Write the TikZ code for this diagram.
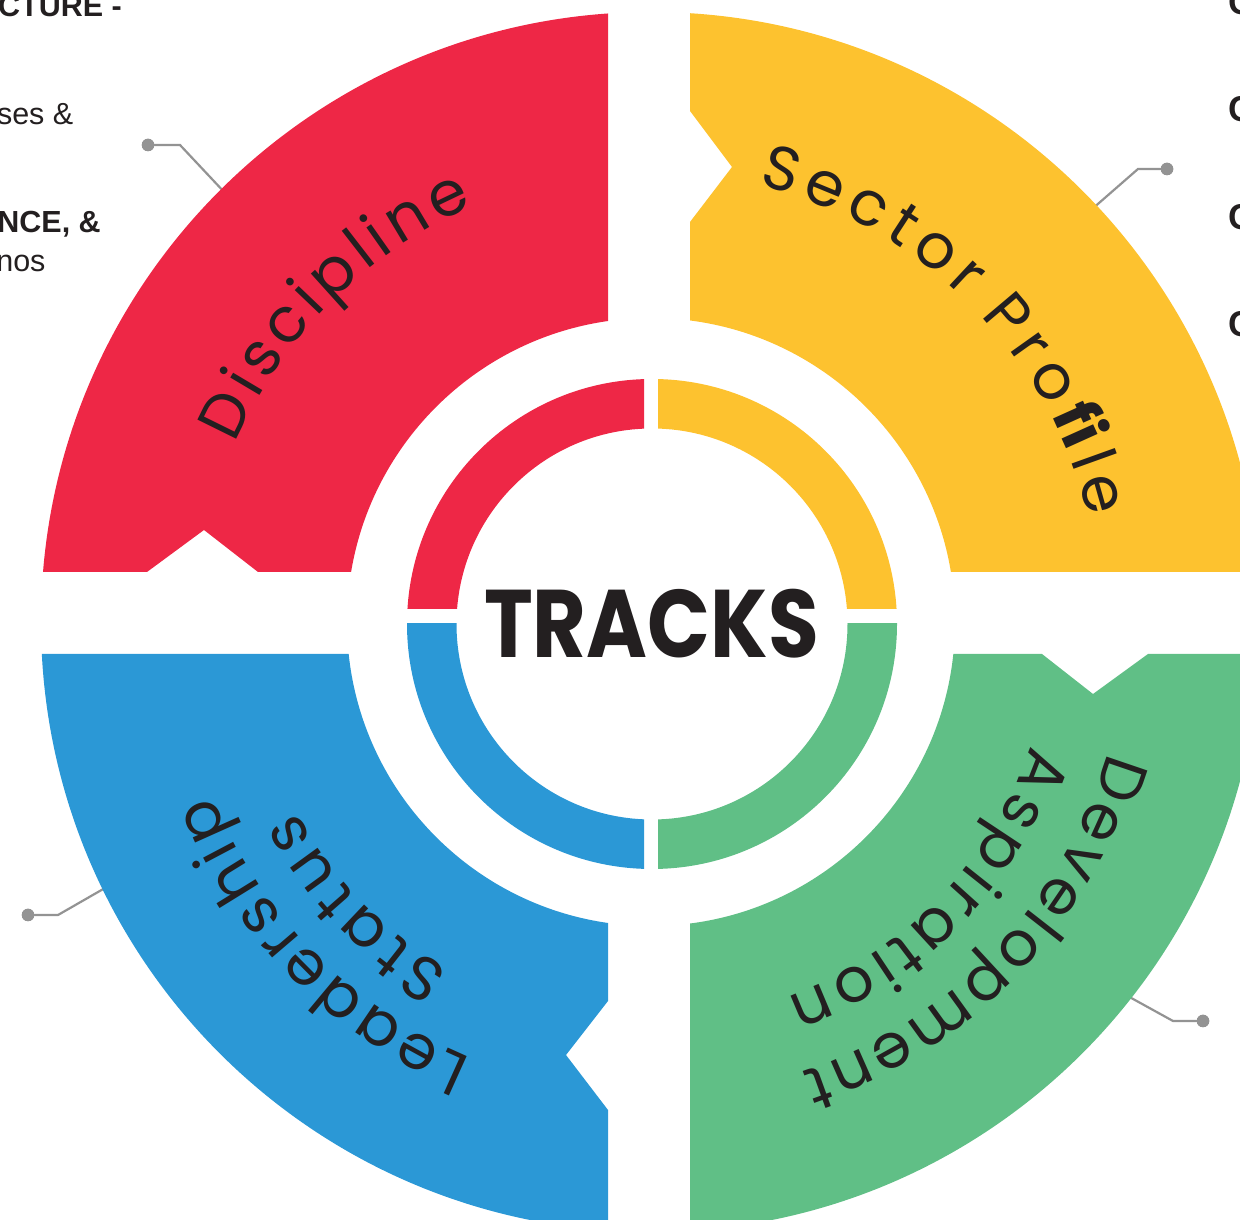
\documentclass[tikz,border=0pt]{standalone}
\usepackage{fontspec}
\setmainfont{Liberation Sans}
\newfontfamily\arcfont{Poppins}
\newfontfamily\trackfont{Poppins}
\usetikzlibrary{decorations.text,calc}
\definecolor{cred}{HTML}{EE2746}
\definecolor{cyel}{HTML}{FDC22F}
\definecolor{cblu}{HTML}{2B98D6}
\definecolor{cgrn}{HTML}{60BF86}
\definecolor{ink}{HTML}{231F20}
\definecolor{leadgray}{HTML}{939393}
\newcommand\lsp{\kern5.5pt}
\newcommand\lspw{\kern7.8pt}
\newcommand\lspn{\kern4.4pt}
\newcommand\arcsize{\arcfont\fontsize{62}{70}\selectfont}
\begin{document}
\begin{tikzpicture}[x=1pt,y=1pt,
  leaddot/.style={circle, fill=leadgray, inner sep=0pt, minimum size=12.5pt},
  leadline/.style={draw=leadgray, line width=2.2pt},
  arctext/.style={decorate, decoration={text along path, text align=center, text color=ink}},
  side/.style={anchor=base east, inner sep=0pt, text=ink, font=\fontsize{30.5}{36}\selectfont},
  sidebold/.style={anchor=base east, inner sep=0pt, text=ink, font=\bfseries\fontsize{30.5}{36}\selectfont},
  sideright/.style={anchor=base west, inner sep=0pt, text=ink, font=\bfseries\fontsize{36}{40}\selectfont},
  ringpart/.style={even odd rule}
]
\useasboundingbox (0,0) rectangle (1240,1220);
\coordinate (C) at (651,598);
\coordinate (R) at (652,596);

% leader lines (drawn under the quadrants)
\node[leaddot] (d1) at (148,1075) {};
\coordinate (k1) at (180,1075);
\coordinate (e1) at (226,1026);
\node[leaddot] (d2) at (1167,1051) {};
\coordinate (k2) at (1138,1051);
\coordinate (e2) at (1091,1010);
\node[leaddot] (d3) at (1203,199) {};
\coordinate (k3) at (1173,199);
\coordinate (e3) at (1124,226);
\node[leaddot] (d4) at (28,305) {};
\coordinate (k4) at (58,305);
\coordinate (e4) at (112,336);
\draw[leadline] (d1.center) -- (k1) -- (e1);
\draw[leadline] (d2.center) -- (k2) -- (e2);
\draw[leadline] (d3.center) -- (k3) -- (e3);
\draw[leadline] (d4.center) -- (k4) -- (e4);
\node[leaddot] at (d1) {};
\node[leaddot] at (d2) {};
\node[leaddot] at (d3) {};
\node[leaddot] at (d4) {};

% outer quadrants
\begin{scope}
\clip (0,648) -- (147,648) -- (204,690) -- (258,648) -- (608,648) -- (608,1220) -- (0,1220) -- cycle;
\fill[cred, ringpart] (C) circle[radius=610] (C) circle[radius=304];
\end{scope}
\begin{scope}
\clip (690,648) -- (690,998) -- (732,1053) -- (690,1109) -- (690,1220) -- (1240,1220) -- (1240,648) -- cycle;
\fill[cyel, ringpart] (C) circle[radius=610] (C) circle[radius=304];
\end{scope}
\begin{scope}
\clip (0,566) -- (608,566) -- (608,219) -- (566,165) -- (608,110) -- (608,0) -- (0,0) -- cycle;
\fill[cblu, ringpart] (C) circle[radius=610] (C) circle[radius=304];
\end{scope}
\begin{scope}
\clip (690,566) -- (1042,566) -- (1093,526) -- (1148,566) -- (1240,566) -- (1240,0) -- (690,0) -- cycle;
\fill[cgrn, ringpart] (C) circle[radius=610] (C) circle[radius=304];
\end{scope}

% inner ring
\begin{scope}
\clip (0,611) rectangle (644,1220);
\fill[cred, ringpart] (R) circle[radius=245] (R) circle[radius=195.5];
\end{scope}
\begin{scope}
\clip (658,611) rectangle (1240,1220);
\fill[cyel, ringpart] (R) circle[radius=245] (R) circle[radius=195.5];
\end{scope}
\begin{scope}
\clip (0,0) rectangle (644,596);
\fill[cblu, ringpart] (R) circle[radius=245] (R) circle[radius=195.5];
\end{scope}
\begin{scope}
\clip (658,0) rectangle (1240,596);
\fill[cgrn, ringpart] (R) circle[radius=245] (R) circle[radius=195.5];
\end{scope}

% centre title
\node[inner sep=0pt, text=ink, font=\trackfont\bfseries\fontsize{96}{100}\selectfont] (tracks) at (651.5,596.5) {\scalebox{0.86}[1]{TRACKS}};

% curved labels
\path[arctext, decoration={text={|\arcsize|{D\lsp}{i\lsp}{s\lsp}{c\lsp}{i\lsp}{p\lsp}{l\lsp}{i\lsp}{n\lsp}{e}}}]
  ($(C)+(185:452)$) arc[start angle=185, end angle=85, radius=452];
\path[arctext, decoration={text={|\arcsize|{S\lspw}{e\lspw}{c\lspw}{t\lspw}{o\lspw}{r\lspw} {P\lspw}{r\lspw}{o\lspw}{\bfseries fi\lspw}{l\lspw}{e}}}]
  ($(C)+(99.8:450)$) arc[start angle=99.8, end angle=-10.2, radius=450];
\path[arctext, decoration={text={|\arcsize|{D\lspn}{e\lspn}{v\lspn}{e\lspn}{l\lspn}{o\lspn}{p\lspn}{m\lspn}{e\lspn}{n\lspn}{t}}}]
  ($(C)+(6.3:475)$) arc[start angle=6.3, end angle=-93.7, radius=475];
\path[arctext, decoration={text={|\arcsize|{A\lsp}{s\lsp}{p\lsp}{i\lsp}{r\lsp}{a\lsp}{t\lsp}{i\lsp}{o\lsp}{n}}}]
  ($(C)+(6:399)$) arc[start angle=6, end angle=-94, radius=399];
\path[arctext, decoration={text={|\arcsize|{L\lspn}{e\lspn}{a\lspn}{d\lspn}{e\lspn}{r\lspn}{s\lspn}{h\lspn}{i\lspn}{p}}}]
  ($(C)+(274.6:472)$) arc[start angle=274.6, end angle=174.6, radius=472];
\path[arctext, decoration={text={|\arcsize|{S\lsp}{t\lsp}{a\lsp}{t\lsp}{u\lsp}{s}}}]
  ($(C)+(274:402)$) arc[start angle=274, end angle=174, radius=402];

% partial side texts
\node[sidebold] (s1) at (122,1203) {CTURE -};
\node[side] (s2) at (73.5,1095) {ses \&};
\node[sidebold] (s3) at (101,987) {NCE, \&};
\node[side] (s4) at (45.7,948) {nos};
\node[sideright] (r1) at (1228,1205) {C};
\node[sideright] (r2) at (1228,1098) {C};
\node[sideright] (r3) at (1228,990) {C};
\node[sideright] (r4) at (1228,883) {C};
\end{tikzpicture}
\end{document}
